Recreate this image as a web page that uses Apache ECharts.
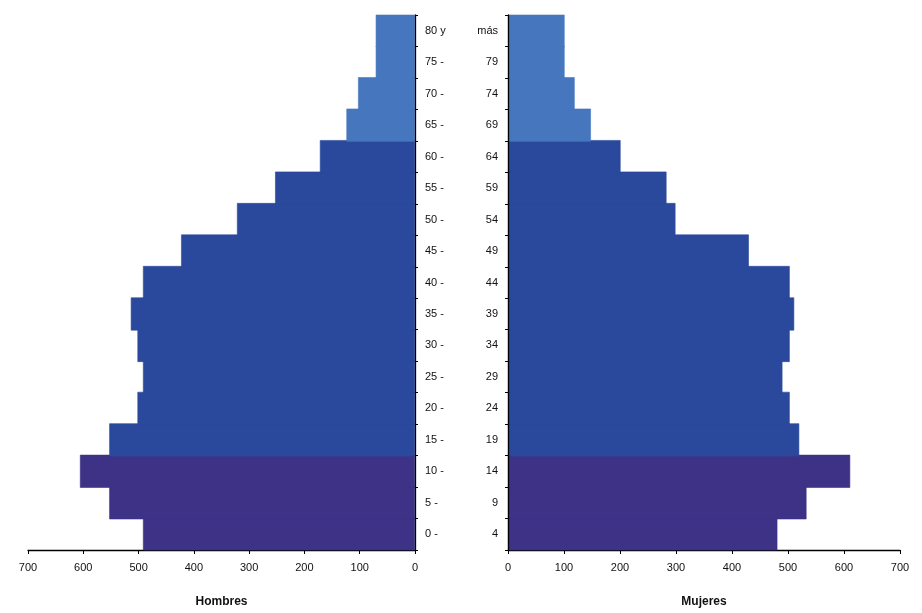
<!DOCTYPE html>
<html>
<head>
<meta charset="utf-8">
<script src="https://cdn.jsdelivr.net/npm/echarts@6/dist/echarts.min.js"></script>
<style>html,body{margin:0;padding:0;background:#fff}#c{width:922px;height:613px}</style>
</head>
<body>
<div id="c"></div>
<script>
var ageStart = ['0 -','5 -','10 -','15 -','20 -','25 -','30 -','35 -','40 -','45 -','50 -','55 -','60 -','65 -','70 -','75 -','80 y'];
var ageEnd = ['4','9','14','19','24','29','34','39','44','49','54','59','64','69','74','79','más'];
var hombres = [492,553,606,553,502,492,502,514,492,423,322,253,172,124,103,71,71];
var mujeres = [481,533,611,520,503,490,503,511,503,430,299,283,201,148,119,101,101];

function colorFor(i){
  if (i <= 2) return '#3d3286';
  if (i <= 12) return '#2a499c';
  return '#4677be';
}
function toItems(arr){
  return arr.map(function(v, i){
    var c = colorFor(i);
    return {value: v, itemStyle: {color: c, borderColor: c, borderWidth: 0.6}};
  });
}
var font = 'Liberation Sans, Arial, sans-serif';
var chart = echarts.init(document.getElementById('c'));
var axisCommon = {
  min: 0, max: 700, interval: 100,
  axisLine: {show: true, lineStyle: {color: '#000', width: 1.3}},
  axisTick: {show: true, length: 4, lineStyle: {color: '#000'}},
  splitLine: {show: false},
  axisLabel: {color: '#111', fontSize: 11, fontFamily: font, margin: 12},
  nameLocation: 'middle', nameGap: 46,
  nameTextStyle: {color: '#111', fontSize: 12, fontFamily: font, fontWeight: 'bold'}
};
chart.setOption({
  animation: false,
  grid: [
    {left: 28, right: 507, top: 15, bottom: 57},
    {left: 508, right: 22, top: 15, bottom: 57}
  ],
  xAxis: [
    Object.assign({}, axisCommon, {gridIndex: 0, type: 'value', inverse: true, name: 'Hombres'}),
    Object.assign({}, axisCommon, {gridIndex: 1, type: 'value', name: 'Mujeres'})
  ],
  yAxis: [
    {gridIndex: 0, type: 'category', data: ageStart, position: 'right', z: 5,
     axisLine: {show: true, lineStyle: {color: '#000', width: 1.3}},
     axisTick: {show: true, length: 3, lineStyle: {color: '#000'}},
     axisLabel: {color: '#111', fontSize: 11, fontFamily: font, margin: 10, align: 'left', padding: [0,0,4,0]}},
    {gridIndex: 1, type: 'category', data: ageEnd, position: 'left', z: 5,
     axisLine: {show: true, lineStyle: {color: '#000', width: 1.3}},
     axisTick: {show: true, length: 3, lineStyle: {color: '#000'}},
     axisLabel: {color: '#111', fontSize: 11, fontFamily: font, margin: 10, align: 'right', padding: [0,0,4,0]}}
  ],
  series: [
    {type: 'bar', xAxisIndex: 0, yAxisIndex: 0, data: toItems(hombres), barWidth: 33},
    {type: 'bar', xAxisIndex: 1, yAxisIndex: 1, data: toItems(mujeres), barWidth: 33}
  ]
});
</script>
</body>
</html>
